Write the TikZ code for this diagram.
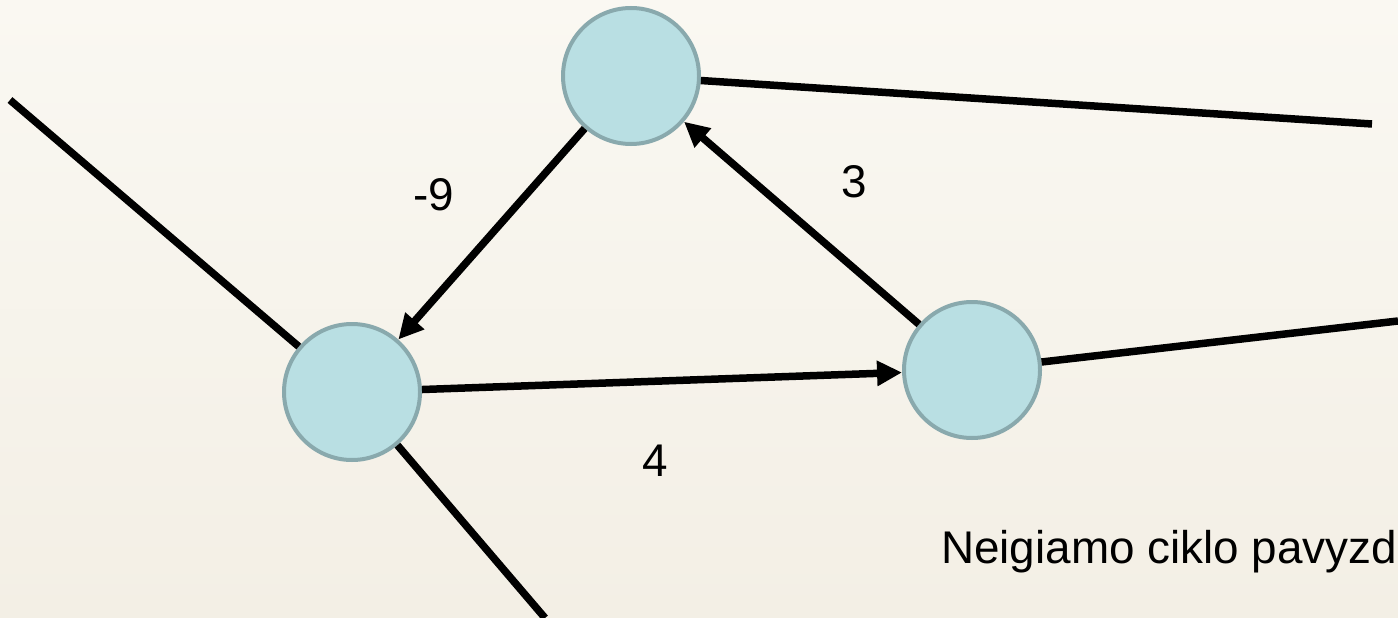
\documentclass[tikz,border=0pt]{standalone}
\usepackage{fontspec}
\setmainfont{Liberation Sans}
\usetikzlibrary{arrows.meta}
\definecolor{paper}{HTML}{FAF8F2}
\definecolor{paperlow}{HTML}{F3EFE5}
\definecolor{vfill}{HTML}{B9DFE3}
\definecolor{vedge}{HTML}{89A9AD}
\begin{document}
\begin{tikzpicture}[x=1bp,y=-1bp,
  vertex/.style={circle,draw=vedge,fill=vfill,line width=4bp,minimum size=136bp,inner sep=0pt},
  edge/.style={line width=7.5bp,black},
  arc/.style={edge,-{Triangle[length=25bp,width=24bp]}},
  lbl/.style={font=\fontsize{46}{55}\selectfont,inner sep=0pt,anchor=base west}]
  % paper background
  \shade[top color=paper,bottom color=paperlow] (0,0) rectangle (1398,618);
  \useasboundingbox (0,0) rectangle (1398,618);

  % vertices
  \node[vertex] (t) at (631,76) {};
  \node[vertex] (l) at (352,392) {};
  \node[vertex] (r) at (972,370) {};

  % loose ends of edges leading out of the cycle
  \coordinate (lin) at (10,100);
  \coordinate (lout) at (545,618);
  \coordinate (tout) at (1372,124);
  \coordinate (rout) at (1398,321);

  \draw[edge] (lin) -- (l);
  \draw[edge] (l) -- (lout);
  \draw[edge] (t) -- (tout);
  \draw[edge] (r) -- (rout);

  % the negative cycle
  \draw[arc] (t) -- (l);
  \draw[arc] (l) -- (r);
  \draw[arc] (r) -- (t);

  % weights and caption
  \node[lbl] (w1) at (413,210) {-9};
  \node[lbl] (w2) at (841,198) {3};
  \node[lbl] (w3) at (642,476) {4};
  \node[lbl] (cap) at (941,563) {Neigiamo ciklo pavyzd};
\end{tikzpicture}
\end{document}
